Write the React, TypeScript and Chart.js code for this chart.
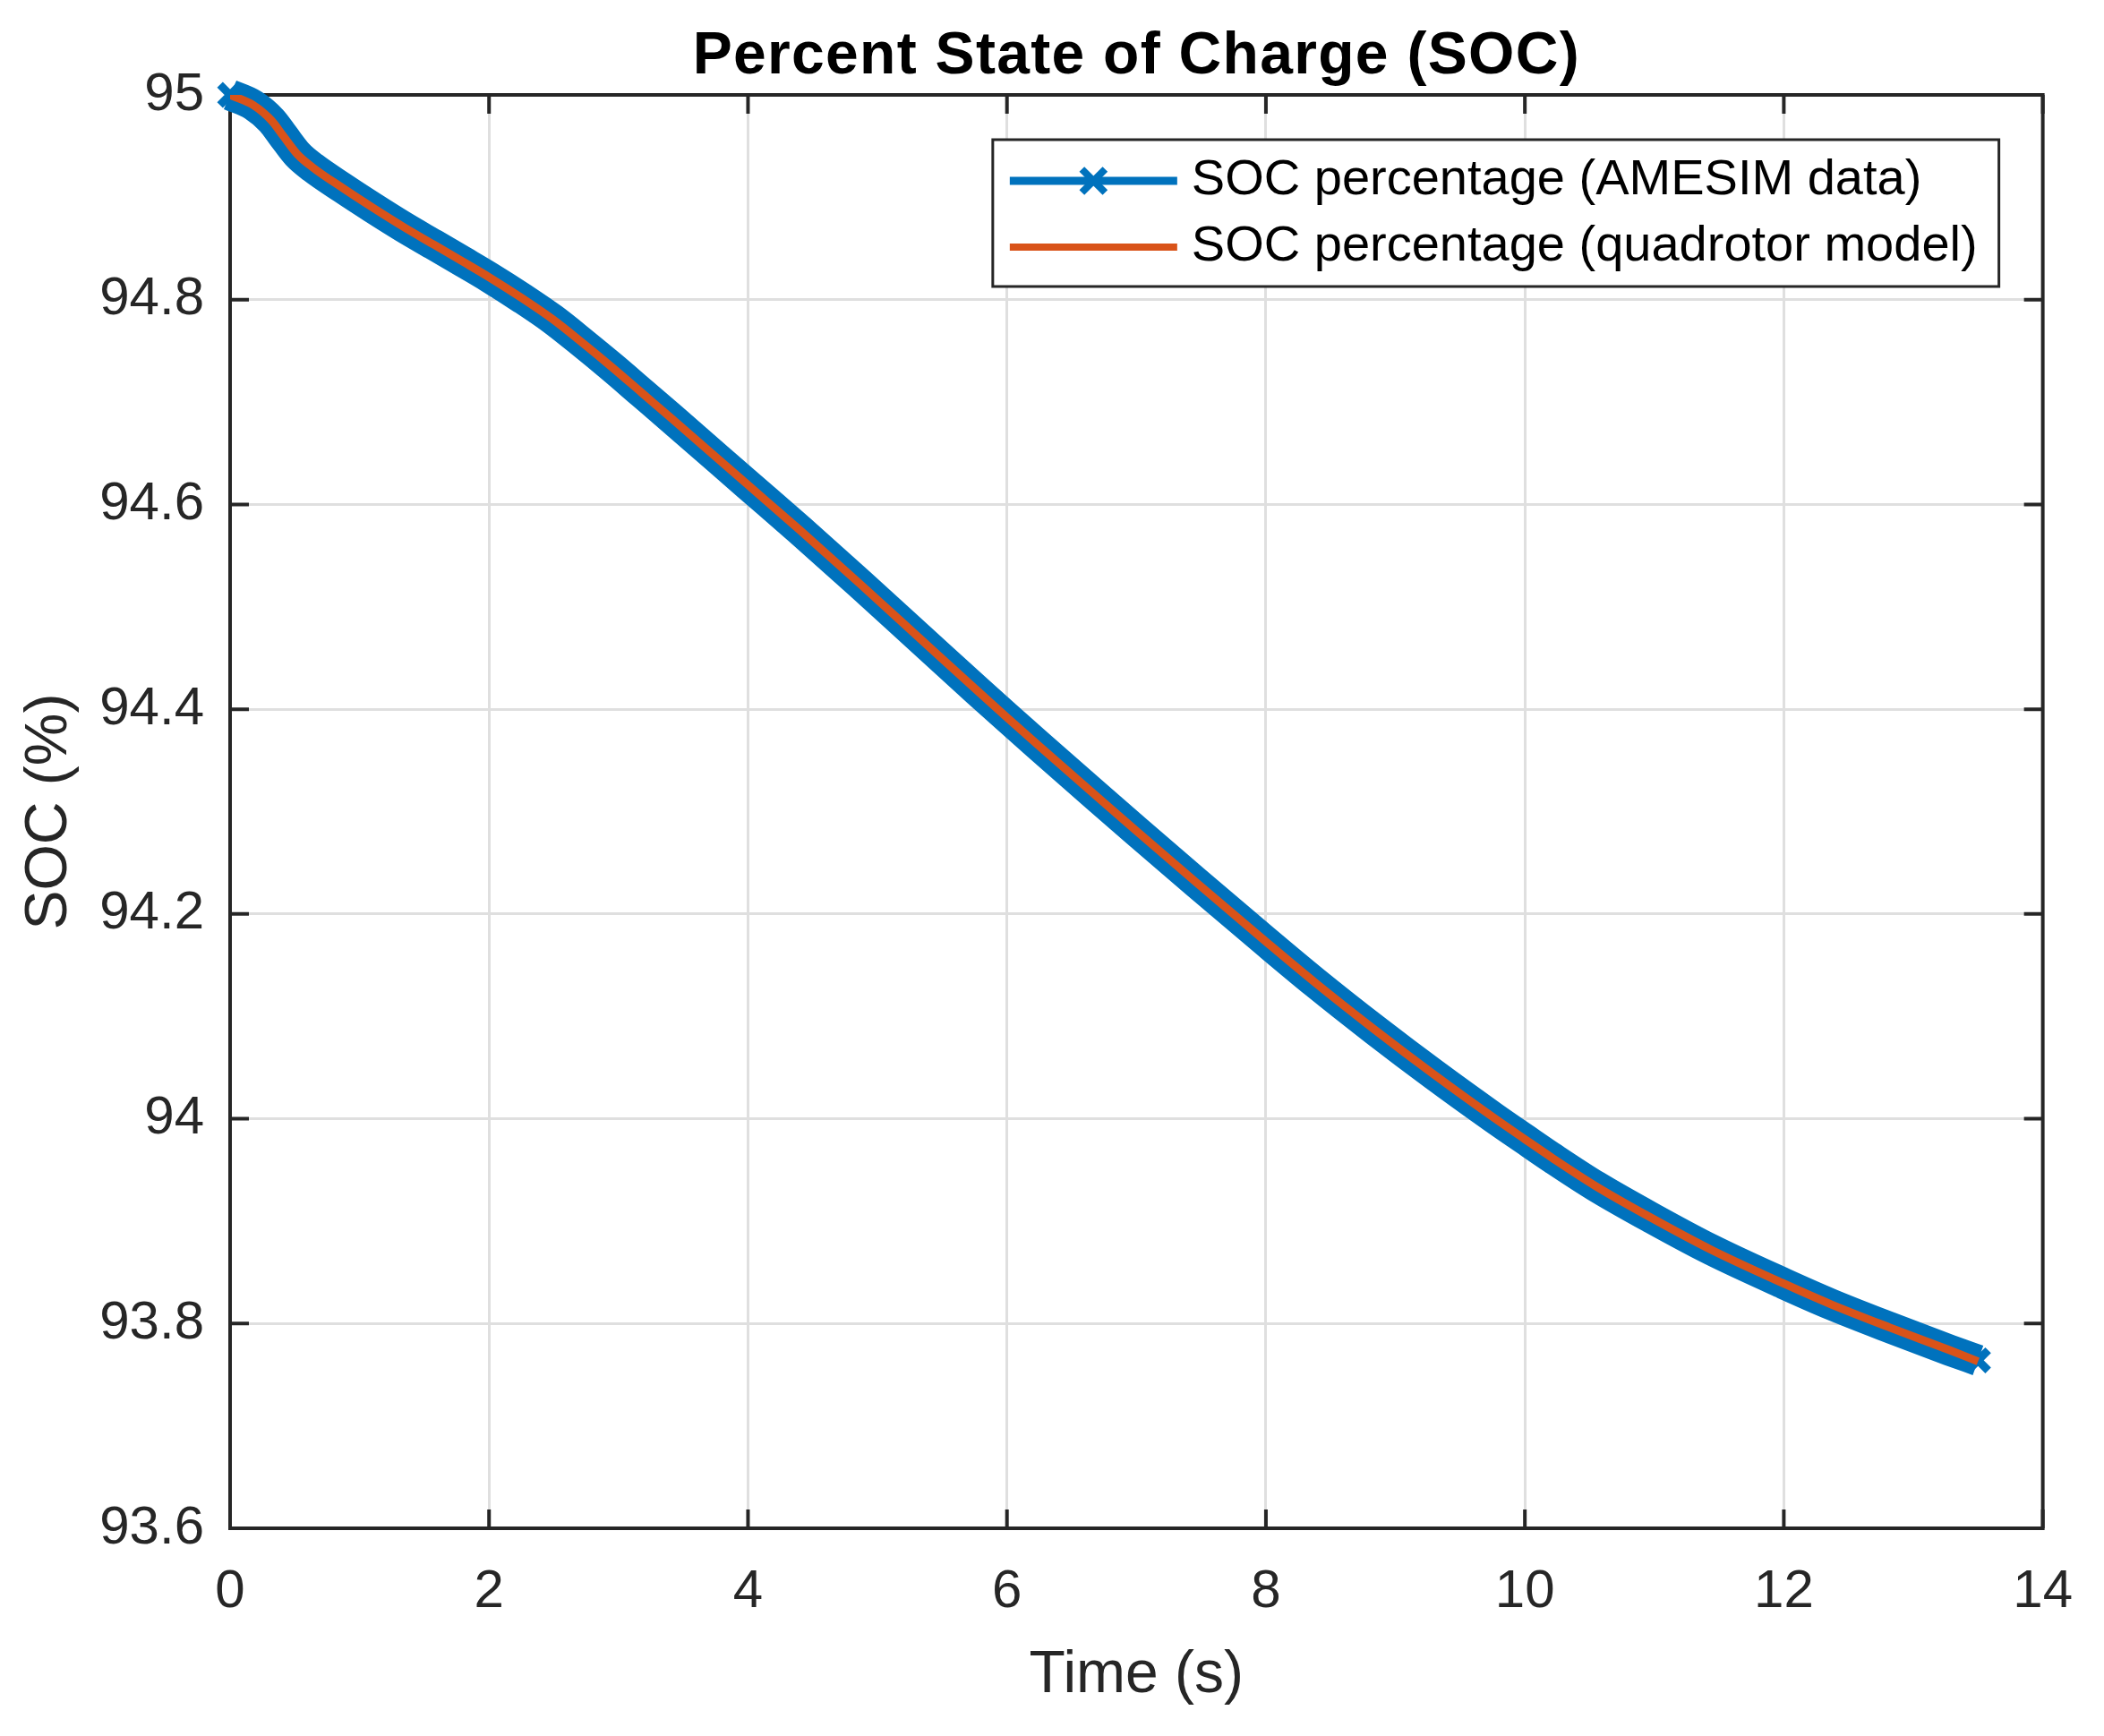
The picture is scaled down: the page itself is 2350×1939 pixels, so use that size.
import React, { useEffect, useRef } from 'react';
import { Chart, registerables } from 'chart.js';

Chart.register(...registerables);

// ---- data ----
const timeS = [
  0, 0.18, 0.32, 0.41, 0.52, 0.64, 0.87, 1.1, 1.34, 1.57,
  1.8, 2.0, 2.26, 2.49, 2.72, 2.95, 3.18, 3.41,
  4.0, 4.4, 4.86, 5.32, 5.78, 6.0, 6.24, 6.7, 7.0, 7.46,
  8.0, 8.38, 8.84, 9.3, 9.76, 10.0, 10.22, 10.55, 10.98, 11.44,
  12.0, 12.36, 12.82, 13.28, 13.5,
];
const socAmesim = [
  95.0, 94.99, 94.975, 94.96, 94.942, 94.929, 94.909, 94.89, 94.871, 94.854,
  94.837, 94.822, 94.801, 94.781, 94.758, 94.734, 94.709, 94.684,
  94.619, 94.575, 94.523, 94.47, 94.417, 94.392, 94.365, 94.314, 94.281, 94.231,
  94.173, 94.133, 94.087, 94.043, 94.001, 93.98, 93.961, 93.934, 93.903, 93.872,
  93.839, 93.819, 93.796, 93.774, 93.764,
];
const socModel = [
  95.0, 94.99, 94.975, 94.96, 94.942, 94.929, 94.909, 94.89, 94.871, 94.854,
  94.837, 94.822, 94.801, 94.781, 94.758, 94.734, 94.709, 94.684,
  94.619, 94.575, 94.523, 94.47, 94.417, 94.392, 94.365, 94.314, 94.281, 94.231,
  94.173, 94.133, 94.087, 94.043, 94.001, 93.98, 93.961, 93.934, 93.903, 93.872,
  93.839, 93.819, 93.796, 93.774, 93.763,
];
const xTicks = [0, 2, 4, 6, 8, 10, 12, 14];
const xTickLabels = ['0', '2', '4', '6', '8', '10', '12', '14'];
const yTicks = [93.6, 93.8, 94, 94.2, 94.4, 94.6, 94.8, 95];
const yTickLabels = ['93.6', '93.8', '94', '94.2', '94.4', '94.6', '94.8', '95'];
const titleText = 'Percent State of Charge (SOC)';
const xLabelText = 'Time (s)';
const yLabelText = 'SOC (%)';
const legendLabels = ['SOC percentage (AMESIM data)', 'SOC percentage (quadrotor model)'];

const BLUE = '#0072BD';
const ORANGE = '#D95319';
const AXIS = '#262626';
const GRID = '#DFDFDF';
const FONT = "'Liberation Sans', Arial, Helvetica, sans-serif";

function labelFor(list: number[], labels: string[], v: number) {
  const i = list.findIndex((t) => Math.abs(t - v) < 1e-9);
  return i >= 0 ? labels[i] : '';
}

const decorPlugin = {
  id: 'matlabDecor',
  beforeDatasetsDraw(chart: any) {
    const { ctx, chartArea: a, scales } = chart;
    const L = 21;
    ctx.save();
    ctx.strokeStyle = AXIS;
    ctx.lineWidth = 4;
    ctx.beginPath();
    xTicks.forEach((v) => {
      const px = scales.x.getPixelForValue(v);
      ctx.moveTo(px, a.bottom);
      ctx.lineTo(px, a.bottom - L);
      ctx.moveTo(px, a.top);
      ctx.lineTo(px, a.top + L);
    });
    yTicks.forEach((v) => {
      const py = scales.y.getPixelForValue(v);
      ctx.moveTo(a.left, py);
      ctx.lineTo(a.left + L, py);
      ctx.moveTo(a.right, py);
      ctx.lineTo(a.right - L, py);
    });
    ctx.stroke();
    ctx.strokeRect(a.left, a.top, a.right - a.left, a.bottom - a.top);
    ctx.restore();
  },
  afterDraw(chart: any) {
    const { ctx, chartArea: a } = chart;
    const cx = (a.left + a.right) / 2;
    const cy = (a.top + a.bottom) / 2;
    ctx.save();
    // title
    ctx.fillStyle = '#000';
    ctx.font = `bold 66px ${FONT}`;
    ctx.textAlign = 'center';
    ctx.textBaseline = 'alphabetic';
    try {
      (ctx as any).letterSpacing = '1.3px';
    } catch (e) {
      /* ignore */
    }
    ctx.fillText(titleText, cx, a.top - 24);
    try {
      (ctx as any).letterSpacing = '0px';
    } catch (e) {
      /* ignore */
    }
    // x label
    ctx.fillStyle = AXIS;
    ctx.font = `66px ${FONT}`;
    ctx.fillText(xLabelText, cx, a.bottom + 183);
    // y label
    ctx.save();
    ctx.translate(74, cy);
    ctx.rotate(-Math.PI / 2);
    ctx.fillText(yLabelText, 0, 0);
    ctx.restore();

    // legend
    ctx.font = `56px ${FONT}`;
    const tw = Math.max(...legendLabels.map((s) => ctx.measureText(s).width));
    const padL = 19, lineLen = 187, gap = 16, padR = 24, boxH = 164;
    const boxW = padL + lineLen + gap + tw + padR;
    const right = a.right - 49;
    const left = right - boxW;
    const top = a.top + 50;
    ctx.fillStyle = '#fff';
    ctx.fillRect(left, top, boxW, boxH);
    ctx.strokeStyle = AXIS;
    ctx.lineWidth = 3;
    ctx.strokeRect(left, top, boxW, boxH);
    const rows = [top + 46, top + 120];
    const colors = [BLUE, ORANGE];
    rows.forEach((ry, i) => {
      ctx.strokeStyle = colors[i];
      ctx.lineWidth = i === 0 ? 9 : 8;
      ctx.lineCap = 'butt';
      ctx.beginPath();
      ctx.moveTo(left + padL, ry);
      ctx.lineTo(left + padL + lineLen, ry);
      ctx.stroke();
      if (i === 0) {
        const mx = left + padL + lineLen / 2;
        const r = 13;
        ctx.lineWidth = 8;
        ctx.beginPath();
        ctx.moveTo(mx - r, ry - r);
        ctx.lineTo(mx + r, ry + r);
        ctx.moveTo(mx - r, ry + r);
        ctx.lineTo(mx + r, ry - r);
        ctx.stroke();
      }
      ctx.fillStyle = '#000';
      ctx.textAlign = 'left';
      ctx.textBaseline = 'middle';
      ctx.fillText(legendLabels[i], left + padL + lineLen + gap, ry);
    });
    ctx.restore();
  },
};

export default function App() {
  const ref = useRef<HTMLCanvasElement>(null);
  useEffect(() => {
    const last = timeS.length - 1;
    const chart = new Chart(ref.current as HTMLCanvasElement, {
      type: 'line',
      data: {
        datasets: [
          {
            label: legendLabels[0],
            data: timeS.map((t, i) => ({ x: t, y: socAmesim[i] })),
            borderColor: BLUE,
            backgroundColor: BLUE,
            borderWidth: 35,
            borderCapStyle: 'butt',
            borderJoinStyle: 'round',
            cubicInterpolationMode: 'monotone',
            pointStyle: 'crossRot',
            pointRadius: (c: any) => (c.dataIndex === 0 || c.dataIndex === last ? 16 : 0),
            pointBorderWidth: 9,
            pointBorderColor: BLUE,
            pointBackgroundColor: BLUE,
            pointHoverRadius: 0,
            clip: false as any,
            order: 2,
          } as any,
          {
            label: legendLabels[1],
            data: timeS.map((t, i) => ({ x: t, y: socModel[i] })),
            borderColor: ORANGE,
            backgroundColor: ORANGE,
            borderWidth: 9,
            borderCapStyle: 'butt',
            borderJoinStyle: 'round',
            cubicInterpolationMode: 'monotone',
            pointRadius: 0,
            pointHoverRadius: 0,
            order: 1,
          } as any,
        ],
      },
      options: {
        animation: false,
        responsive: false,
        devicePixelRatio: 1,
        events: [],
        layout: { padding: { left: 0, top: 106, right: 66, bottom: 0 } },
        plugins: { legend: { display: false }, title: { display: false }, tooltip: { enabled: false } },
        scales: {
          x: {
            type: 'linear',
            min: 0,
            max: 14,
            afterBuildTicks: (s: any) => {
              s.ticks = xTicks.map((v) => ({ value: v }));
            },
            afterFit: (s: any) => {
              s.height = 232;
            },
            grid: { color: GRID, lineWidth: 3, drawTicks: false },
            border: { display: false },
            ticks: {
              autoSkip: false,
              maxRotation: 0,
              minRotation: 0,
              padding: 35,
              color: AXIS,
              font: { family: FONT, size: 60 },
              callback: (v: any) => labelFor(xTicks, xTickLabels, Number(v)),
            },
          },
          y: {
            type: 'linear',
            min: 93.6,
            max: 95,
            afterBuildTicks: (s: any) => {
              s.ticks = yTicks.map((v) => ({ value: v }));
            },
            afterFit: (s: any) => {
              s.width = 257;
            },
            grid: { color: GRID, lineWidth: 3, drawTicks: false },
            border: { display: false },
            ticks: {
              autoSkip: false,
              padding: 29,
              color: AXIS,
              font: { family: FONT, size: 60 },
              callback: (v: any) => labelFor(yTicks, yTickLabels, Number(v)),
            },
          },
        },
      } as any,
      plugins: [decorPlugin],
    });
    return () => chart.destroy();
  }, []);
  return (
    <div style={{ position: 'absolute', left: 0, top: 0, width: 2350, height: 1939, background: '#fff' }}>
      <canvas ref={ref} width={2350} height={1939} style={{ display: 'block', width: 2350, height: 1939 }} />
    </div>
  );
}
